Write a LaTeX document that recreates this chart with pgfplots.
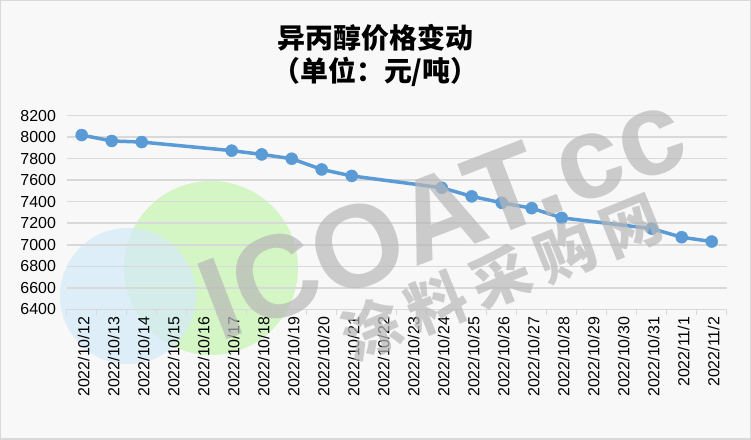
\documentclass[border=0pt]{standalone}
\usepackage{pgfplots}
\pgfplotsset{compat=1.18}
\usepackage{fontspec}
\setmainfont{Liberation Sans}
\newfontfamily\cjk{Noto Sans CJK SC}
\definecolor{linebl}{HTML}{5B9BD5}
\definecolor{gridc}{HTML}{D9D9D9}
\definecolor{bgc}{HTML}{F8F8F8}
\definecolor{wmc}{HTML}{B8B8B8}
\definecolor{wmgreen}{HTML}{D4F6C4}
\definecolor{wmblue}{HTML}{D6EBF8}
\begin{document}
\begin{tikzpicture}
\begin{scope}[x=1bp,y=1bp]
% background and frame
\fill[bgc] (0,0) rectangle (751,440);
\draw[gridc,line width=1.5bp] (0.75,0.75) rectangle (750.25,439.25);
% watermark circles
\fill[wmgreen] (211,172) circle (87);
\fill[wmblue,opacity=0.75] (128,144) circle (68);
\end{scope}
\begin{axis}[
  at={(66.7bp,130.7bp)}, anchor=south west,
  scale only axis, width=660bp, height=193.6bp,
  xmin=-0.5, xmax=21.5, ymin=6400, ymax=8200,
  ytick={6400,6600,...,8200},
  xtick={0,...,21},
  xticklabels={2022/10/12,2022/10/13,2022/10/14,2022/10/15,2022/10/16,2022/10/17,2022/10/18,2022/10/19,2022/10/20,2022/10/21,2022/10/22,2022/10/23,2022/10/24,2022/10/25,2022/10/26,2022/10/27,2022/10/28,2022/10/29,2022/10/30,2022/10/31,2022/11/1,2022/11/2},
  minor xtick={-0.5,0.5,...,21.5},
  major x tick style={draw=none},
  minor x tick style={gridc,line width=1.5bp},
  tick align=outside, minor tick length=6bp,
  ytick style={draw=none},
  ymajorgrids, grid style={gridc,line width=1.5bp},
  axis x line*=bottom, axis y line*=left,
  x axis line style={gridc,line width=1.5bp,-},
  y axis line style={draw=none},
  x tick label style={rotate=90,anchor=east,font=\fontsize{16}{16}\selectfont,yshift=-2bp},
  y tick label style={font=\fontsize{16}{16}\selectfont,xshift=-3bp},
  /pgf/number format/assume math mode=true,
  /pgf/number format/set thousands separator={},
  clip=false,
]
\addplot[linebl,line width=3.5bp,mark=*,mark size=6bp,mark options={fill=linebl,draw=linebl,line width=0.5bp}] coordinates {
(0,8020) (1,7965) (2,7955) (5,7875) (6,7840) (7,7800) (8,7700) (9,7640)
(12,7530) (13,7450) (14,7390) (15,7340) (16,7250) (19,7150) (20,7070) (21,7030)
};
\end{axis}
\begin{scope}[x=1bp,y=1bp]
% watermark text
\node[wmc,opacity=0.7,rotate=21,font=\bfseries\fontsize{118}{118}\selectfont] at (442,226) {ICOAT.cc};
\node[wmc,opacity=0.7,rotate=22,font=\cjk\bfseries\fontsize{60}{60}\selectfont] at (501,163) {涂\hspace{10bp}料\hspace{10bp}采\hspace{10bp}购\hspace{10bp}网};
% title
\node[font=\cjk\bfseries\fontsize{28}{28}\selectfont] at (375.5,402) {异丙醇价格变动};
\node[font=\cjk\bfseries\fontsize{28}{28}\selectfont] at (375.5,368) {（单位：元/吨）};
\end{scope}
\end{tikzpicture}
\end{document}
